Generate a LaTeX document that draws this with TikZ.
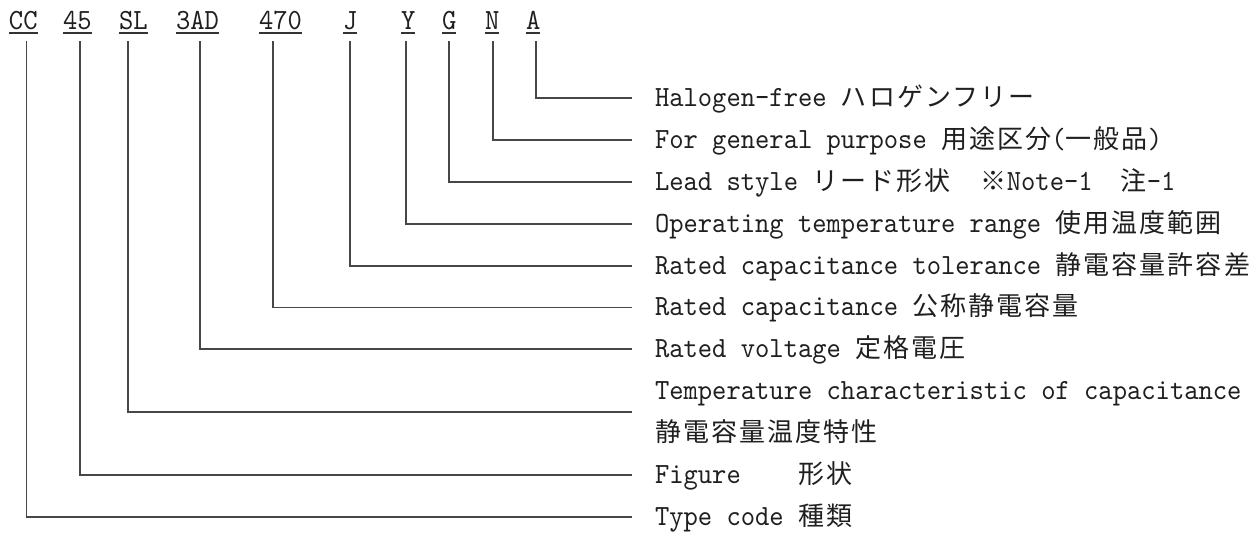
\documentclass[tikz,border=0pt]{standalone}
\usepackage{fontspec}
\setmonofont{lmmono10-regular.otf}[FakeStretch=0.93]
\newfontfamily\jp[LetterSpace=8]{Noto Sans CJK JP}
\newcommand\J[1]{{\fontsize{26pt}{30pt}\jp #1}}
\begin{document}
\begin{tikzpicture}[x=1pt,y=-1pt,
  txt/.style={inner sep=0pt,outer sep=0pt,anchor=base west,text=black!88,
    font=\fontsize{29.3pt}{32pt}\ttfamily},
  conn/.style={draw=black!72,line width=1.3pt},
  uline/.style={draw=black!80,line width=1.4pt}]
\useasboundingbox (0,0) rectangle (1255,539);
% code letters
\foreach \n/\t/\x in {cc/CC/9, f45/45/63, sl/SL/119, ad/3AD/176, c470/470/259,
  j/J/343, y/Y/401, g/G/442, nn/N/485, a/A/526}{
  \node[txt] (\n) at (\x,29) {\t};
  \draw[uline] ([yshift=-4pt]\n.base west) -- ([yshift=-4pt]\n.base east);
}
% labels
\def\lx{655}
\node[txt] (la) at (\lx,106) {Halogen-free \J{ハロゲンフリー}};
\node[txt] (ln) at (\lx,148) {For general purpose \J{用途区分}(\J{一般品})};
\node[txt] (lg) at (\lx,190) {Lead style \J{リード形状　※}Note-1\J{　注}-1};
\node[txt] (ly) at (\lx,232) {Operating temperature range \J{使用温度範囲}};
\node[txt] (lj) at (\lx,274) {Rated capacitance tolerance \J{静電容量許容差}};
\node[txt] (l470) at (\lx,315.5) {Rated capacitance \J{公称静電容量}};
\node[txt] (lad) at (\lx,357) {Rated voltage \J{定格電圧}};
\node[txt] (lsl) at (\lx,399) {Temperature characteristic of capacitance};
\node[txt] (lsl2) at (\lx,441) {\J{静電容量温度特性}};
\node[txt] (l45) at (\lx,483) {Figure\ \ \ \ \J{形状}};
\node[txt] (lcc) at (\lx,525) {Type code \J{種類}};
% connector end points
\foreach \n/\x/\yy in {a/536/98, nn/493/140, g/449/182, y/406/224, j/350/266,
  c470/273/307.5, ad/200/349, sl/128/412, f45/80/475, cc/26.7/517}{
  \coordinate (\n-top) at (\x,41);
  \coordinate (\n-end) at (632,\yy);
  \draw[conn] (\n-top) |- (\n-end);
}
\end{tikzpicture}
\end{document}
